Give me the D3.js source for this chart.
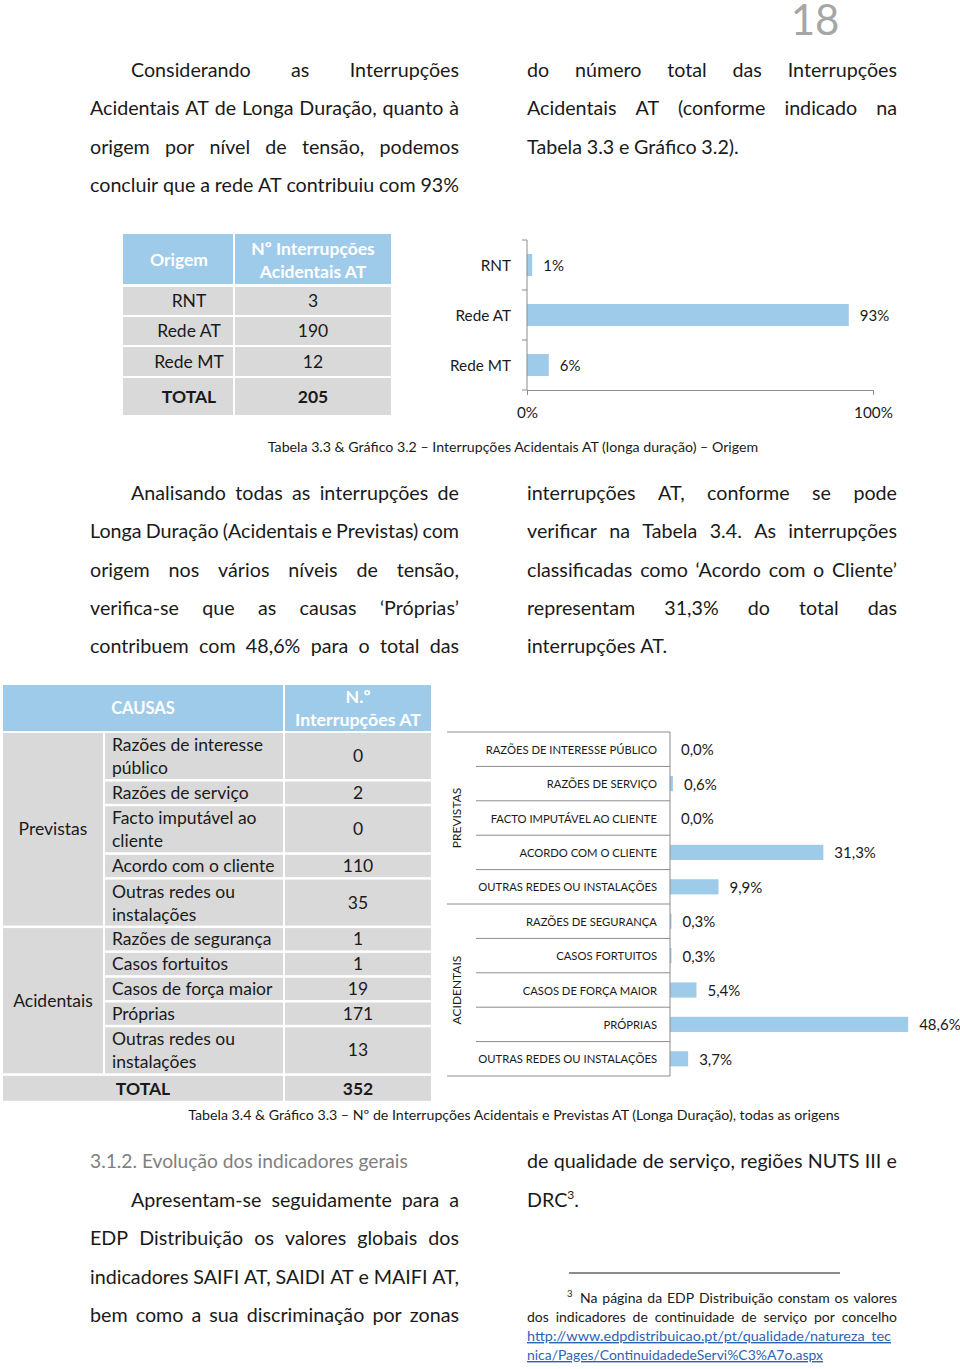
<!DOCTYPE html>
<html><head><meta charset="utf-8">
<script src="https://cdn.jsdelivr.net/npm/d3@7"></script>
<style>
html,body{margin:0;padding:0;background:#fff;}
svg{display:block;font-family:Lato,"Open Sans",sans-serif;}
</style></head><body>
<svg id="page" width="960" height="1369"></svg>
<script>
// ---------- DATA ----------
const origemCats = ["RNT", "Rede AT", "Rede MT"];
const origemCounts = [3, 190, 12];
const origemTotal = 205;
const origemShare = [0.015, 0.93, 0.063];
const origemLabels = ["1%", "93%", "6%"];
const origemTicks = [0, 1];
const origemTickLabels = ["0%", "100%"];

const causaGroups = ["Previstas", "Acidentais"];
const causaGroupOf = ["Previstas","Previstas","Previstas","Previstas","Previstas","Acidentais","Acidentais","Acidentais","Acidentais","Acidentais"];
const causaTableLabels = [["Razões de interesse","público"],["Razões de serviço"],["Facto imputável ao","cliente"],["Acordo com o cliente"],["Outras redes ou","instalações"],["Razões de segurança"],["Casos fortuitos"],["Casos de força maior"],["Próprias"],["Outras redes ou","instalações"]];
const causaCounts = [0, 2, 0, 110, 35, 1, 1, 19, 171, 13];
const causaTotal = 352;
const causaChartLabels = ["RAZÕES DE INTERESSE PÚBLICO","RAZÕES DE SERVIÇO","FACTO IMPUTÁVEL AO CLIENTE","ACORDO COM O CLIENTE","OUTRAS REDES OU INSTALAÇÕES","RAZÕES DE SEGURANÇA","CASOS FORTUITOS","CASOS DE FORÇA MAIOR","PRÓPRIAS","OUTRAS REDES OU INSTALAÇÕES"];
const causaPct = [0.0, 0.6, 0.0, 31.3, 9.9, 0.3, 0.3, 5.4, 48.6, 3.7];

const para1Left = ["Considerando as Interrupções","Acidentais AT de Longa Duração, quanto à","origem por nível de tensão, podemos","concluir que a rede AT contribuiu com 93%"];
const para1Right = ["do número total das Interrupções","Acidentais AT (conforme indicado na","Tabela 3.3 e Gráfico 3.2)."];
const para2Left = ["Analisando todas as interrupções de","Longa Duração (Acidentais e Previstas) com","origem nos vários níveis de tensão,","verifica-se que as causas ‘Próprias’","contribuem com 48,6% para o total das"];
const para2Right = ["interrupções AT, conforme se pode","verificar na Tabela 3.4. As interrupções","classificadas como ‘Acordo com o Cliente’","representam 31,3% do total das","interrupções AT."];
const para3Left = ["Apresentam-se seguidamente para a","EDP Distribuição os valores globais dos","indicadores SAIFI AT, SAIDI AT e MAIFI AT,","bem como a sua discriminação por zonas"];
const caption1 = "Tabela 3.3 & Gráfico 3.2 – Interrupções Acidentais AT (longa duração) – Origem";
const caption2 = "Tabela 3.4 & Gráfico 3.3 – Nº de Interrupções Acidentais e Previstas AT (Longa Duração), todas as origens";

// ---------- STYLE ----------
const BLUE_HEAD = "#9fcbea";
const BAR = "#9fcbea";
const GRAY = "#d9d9d9";
const INK = "#1a1a1a";
const AXIS = "#8c8c8c";
const BODY = 19.7;

const svg = d3.select("#page");

function justifyLine(g, text, x0, x1, y, o) {
  const size = o.size || BODY;
  const words = text.split(" ");
  const grp = g.append("g");
  const nodes = words.map(w => grp.append("text").attr("y", y).attr("font-size", size)
    .attr("fill", o.fill || INK).text(w));
  const widths = nodes.map(n => n.node().getComputedTextLength());
  const sum = d3.sum(widths);
  const avail = x1 - x0;
  if (!o.justify || words.length === 1) {
    const sp = size * 0.24;
    let x = x0;
    nodes.forEach((n, i) => { n.attr("x", x); x += widths[i] + sp; });
    return;
  }
  let gap = (avail - sum) / (words.length - 1);
  let scale = 1;
  const minGap = size * 0.16;
  if (gap < minGap) { gap = minGap; scale = (avail - gap * (words.length - 1)) / sum; }
  let x = x0;
  nodes.forEach((n, i) => {
    n.attr("x", x);
    if (scale < 1) n.attr("textLength", widths[i] * scale).attr("lengthAdjust", "spacingAndGlyphs");
    x += widths[i] * scale + gap;
  });
}

function paragraph(lines, x0, x1, y0, lh, indentFirst, lastJustify) {
  lines.forEach((t, i) => {
    const xs = (i === 0 && indentFirst) ? x0 + 41 : x0;
    const just = i < lines.length - 1 || lastJustify;
    justifyLine(svg, t, xs, x1, y0 + i * lh, {size: BODY, justify: just});
  });
}

// fit a text node to a given width ratio
function squeeze(sel, ratio) {
  sel.each(function() {
    const w = this.getComputedTextLength();
    d3.select(this).attr("textLength", w * ratio).attr("lengthAdjust", "spacingAndGlyphs");
  });
}

// page number
svg.append("text").attr("x", 815).attr("y", 35).attr("text-anchor", "middle")
  .attr("font-size", 42).attr("fill", "#a6a6a6").text("18");

// paragraph 1
paragraph(para1Left, 90, 459, 77, 38.3, true, true);
paragraph(para1Right, 527, 897, 77, 38.3, false, false);

// ---------- TABLE 1 ----------
const T1 = 17.5;
const t1 = svg.append("g");
const t1x = [123, 235, 391];
t1.append("rect").attr("x", t1x[0]).attr("y", 234).attr("width", t1x[1] - t1x[0] - 2).attr("height", 50).attr("fill", BLUE_HEAD);
t1.append("rect").attr("x", t1x[1]).attr("y", 234).attr("width", t1x[2] - t1x[1]).attr("height", 50).attr("fill", BLUE_HEAD);
t1.append("text").attr("x", 179).attr("y", 266).attr("text-anchor", "middle").attr("font-size", T1)
  .attr("font-weight", "bold").attr("fill", "#fff").text("Origem");
t1.append("text").attr("x", 313).attr("y", 255).attr("text-anchor", "middle").attr("font-size", T1)
  .attr("font-weight", "bold").attr("fill", "#fff").text("Nº Interrupções");
t1.append("text").attr("x", 313).attr("y", 278).attr("text-anchor", "middle").attr("font-size", T1)
  .attr("font-weight", "bold").attr("fill", "#fff").text("Acidentais AT");
const t1rows = origemCats.map((c, i) => ({c, v: origemCounts[i], bold: false}))
  .concat([{c: "TOTAL", v: origemTotal, bold: true}]);
const t1tops = [287, 317, 347, 378];
const t1h = [28, 28, 29, 37];
t1rows.forEach((r, i) => {
  t1.append("rect").attr("x", t1x[0]).attr("y", t1tops[i]).attr("width", t1x[1] - t1x[0] - 2).attr("height", t1h[i]).attr("fill", GRAY);
  t1.append("rect").attr("x", t1x[1]).attr("y", t1tops[i]).attr("width", t1x[2] - t1x[1]).attr("height", t1h[i]).attr("fill", GRAY);
  const cy = t1tops[i] + t1h[i] / 2 + 6;
  t1.append("text").attr("x", 189).attr("y", cy).attr("text-anchor", "middle").attr("font-size", T1)
    .attr("font-weight", r.bold ? "bold" : "normal").attr("fill", INK).text(r.c);
  t1.append("text").attr("x", 313).attr("y", cy).attr("text-anchor", "middle").attr("font-size", T1)
    .attr("font-weight", r.bold ? "bold" : "normal").attr("fill", INK).text(r.v);
});

// ---------- CHART 1 ----------
const c1 = svg.append("g");
const x1s = d3.scaleLinear().domain([0, 1]).range([527, 873]);
const y1s = d3.scaleBand().domain(origemCats).range([240, 390]).paddingInner(0.56).paddingOuter(0.28);
c1.selectAll("rect.bar").data(origemCats).join("rect").attr("class", "bar")
  .attr("x", x1s(0)).attr("y", d => y1s(d)).attr("height", y1s.bandwidth())
  .attr("width", (d, i) => x1s(origemShare[i]) - x1s(0)).attr("fill", BAR);
c1.selectAll("text.val").data(origemCats).join("text").attr("class", "val")
  .attr("x", (d, i) => x1s(origemShare[i]) + 11).attr("y", d => y1s(d) + y1s.bandwidth() / 2 + 5.5)
  .attr("font-size", 15).attr("fill", INK).text((d, i) => origemLabels[i]);
c1.selectAll("text.cat").data(origemCats).join("text").attr("class", "cat")
  .attr("x", 511).attr("text-anchor", "end").attr("y", d => y1s(d) + y1s.bandwidth() / 2 + 5.5)
  .attr("font-size", 15.3).attr("fill", INK).text(d => d);
c1.append("line").attr("x1", x1s(0)).attr("x2", x1s(0)).attr("y1", 240).attr("y2", 390).attr("stroke", AXIS);
d3.range(origemCats.length + 1).forEach(i => {
  const yy = y1s.range()[0] + i * y1s.step();
  c1.append("line").attr("x1", x1s(0) - 5).attr("x2", x1s(0)).attr("y1", yy).attr("y2", yy).attr("stroke", AXIS);
});
const ax1 = c1.append("g").attr("transform", "translate(0,390)")
  .call(d3.axisBottom(x1s).tickValues(origemTicks).tickFormat((d, i) => origemTickLabels[i]).tickSize(5).tickSizeOuter(0).tickPadding(12));
ax1.selectAll("path,line").attr("stroke", AXIS);
ax1.selectAll("text").attr("font-size", 15.3).attr("fill", INK).attr("font-family", "Lato");

svg.append("text").attr("x", 513).attr("y", 452).attr("text-anchor", "middle").attr("font-size", 14.2)
  .attr("fill", INK).text(caption1);

// paragraph 2
paragraph(para2Left, 90, 459, 500, 38.3, true, true);
paragraph(para2Right, 527, 897, 500, 38.3, false, false);

// ---------- TABLE 2 ----------
const T2 = 17.5;
const t2 = svg.append("g");
const cx = [3, 105, 285, 431];
t2.append("rect").attr("x", cx[0]).attr("y", 685).attr("width", cx[2] - cx[0] - 2).attr("height", 46).attr("fill", BLUE_HEAD);
t2.append("rect").attr("x", cx[2]).attr("y", 685).attr("width", cx[3] - cx[2]).attr("height", 46).attr("fill", BLUE_HEAD);
t2.append("text").attr("x", 143).attr("y", 714).attr("text-anchor", "middle").attr("font-size", 16.5)
  .attr("font-weight", "bold").attr("fill", "#fff").text("CAUSAS");
t2.append("text").attr("x", 358).attr("y", 703).attr("text-anchor", "middle").attr("font-size", 17.8)
  .attr("font-weight", "bold").attr("fill", "#fff").text("N.º");
t2.append("text").attr("x", 358).attr("y", 726).attr("text-anchor", "middle").attr("font-size", 17.8)
  .attr("font-weight", "bold").attr("fill", "#fff").text("Interrupções AT");
let yy = 733;
const rowPos = [];
causaTableLabels.forEach((lab, i) => {
  const h = lab.length === 2 ? 46 : 22.3;
  rowPos.push({top: yy, h});
  yy += h + 2.5;
});
const totalTop = yy;
causaTableLabels.forEach((lab, i) => {
  const r = rowPos[i];
  t2.append("rect").attr("x", cx[1]).attr("y", r.top).attr("width", cx[2] - cx[1] - 2).attr("height", r.h).attr("fill", GRAY);
  t2.append("rect").attr("x", cx[2]).attr("y", r.top).attr("width", cx[3] - cx[2]).attr("height", r.h).attr("fill", GRAY);
  if (lab.length === 2) {
    lab.forEach((l, k) => t2.append("text").attr("x", 112).attr("y", r.top + 18 + k * 23).attr("font-size", T2).attr("fill", INK).text(l));
  } else {
    t2.append("text").attr("x", 112).attr("y", r.top + r.h / 2 + 6).attr("font-size", T2).attr("fill", INK).text(lab[0]);
  }
  t2.append("text").attr("x", 358).attr("y", r.top + r.h / 2 + 6).attr("text-anchor", "middle").attr("font-size", T2).attr("fill", INK).text(causaCounts[i]);
});
causaGroups.forEach(g => {
  const idx = d3.range(causaGroupOf.length).filter(i => causaGroupOf[i] === g);
  const top = rowPos[idx[0]].top;
  const last = rowPos[idx[idx.length - 1]];
  const bottom = last.top + last.h;
  t2.append("rect").attr("x", cx[0]).attr("y", top).attr("width", cx[1] - cx[0] - 2).attr("height", bottom - top).attr("fill", GRAY);
  t2.append("text").attr("x", 53).attr("y", (top + bottom) / 2 + 6).attr("text-anchor", "middle").attr("font-size", T2).attr("fill", INK).text(g);
});
t2.append("rect").attr("x", cx[0]).attr("y", totalTop).attr("width", cx[2] - cx[0] - 2).attr("height", 25).attr("fill", GRAY);
t2.append("rect").attr("x", cx[2]).attr("y", totalTop).attr("width", cx[3] - cx[2]).attr("height", 25).attr("fill", GRAY);
t2.append("text").attr("x", 143).attr("y", totalTop + 19).attr("text-anchor", "middle").attr("font-size", T2).attr("font-weight", "bold").attr("fill", INK).text("TOTAL");
t2.append("text").attr("x", 358).attr("y", totalTop + 19).attr("text-anchor", "middle").attr("font-size", T2).attr("font-weight", "bold").attr("fill", INK).text(causaTotal);

// ---------- CHART 2 ----------
const c2 = svg.append("g");
const idx2 = d3.range(causaChartLabels.length);
const x2s = d3.scaleLinear().domain([0, 50]).range([670, 915]);
const y2s = d3.scaleBand().domain(idx2).range([732, 1076]).paddingInner(0.56).paddingOuter(0.28);
const fmt = v => v.toFixed(1).replace(".", ",") + "%";
c2.selectAll("rect.bar").data(idx2).join("rect").attr("class", "bar")
  .attr("x", x2s(0)).attr("y", i => y2s(i)).attr("height", y2s.bandwidth())
  .attr("width", i => x2s(causaPct[i]) - x2s(0)).attr("fill", BAR);
c2.selectAll("text.val").data(idx2).join("text").attr("class", "val")
  .attr("x", i => x2s(causaPct[i]) + 11).attr("y", i => y2s(i) + y2s.bandwidth() / 2 + 6)
  .attr("font-size", 15).attr("fill", INK).text(i => fmt(causaPct[i]));
c2.selectAll("text.cat").data(idx2).join("text").attr("class", "cat")
  .attr("x", 657).attr("text-anchor", "end").attr("y", i => y2s(i) + y2s.bandwidth() / 2 + 4.5)
  .attr("font-size", 12.3).attr("fill", INK).text(i => causaChartLabels[i])
  .call(squeeze, 0.915);
const step2 = y2s.step();
const y2top = y2s.range()[0];
d3.range(idx2.length + 1).forEach(i => {
  const y = y2top + i * step2;
  const full = i === 0 || i === idx2.length || causaGroupOf[i] !== causaGroupOf[i - 1];
  c2.append("line").attr("x1", full ? 447 : 476).attr("x2", x2s(0)).attr("y1", y).attr("y2", y).attr("stroke", AXIS);
});
c2.append("line").attr("x1", x2s(0)).attr("x2", x2s(0)).attr("y1", y2top).attr("y2", y2top + idx2.length * step2).attr("stroke", AXIS);
causaGroups.forEach(g => {
  const idx = idx2.filter(i => causaGroupOf[i] === g);
  const a = y2top + idx[0] * step2, b = y2top + (idx[idx.length - 1] + 1) * step2;
  c2.append("text").attr("transform", `translate(461,${(a + b) / 2}) rotate(-90)`)
    .attr("text-anchor", "middle").attr("font-size", 12).attr("fill", INK).text(g.toUpperCase());
});

svg.append("text").attr("x", 514).attr("y", 1120).attr("text-anchor", "middle").attr("font-size", 14.2)
  .attr("fill", INK).text(caption2);

// ---------- SECTION 3 ----------
svg.append("text").attr("x", 90).attr("y", 1168).attr("font-size", 19.2).attr("fill", "#7f7f7f")
  .text("3.1.2. Evolução dos indicadores gerais");
paragraph(para3Left, 90, 459, 1207, 38.3, true, true);
justifyLine(svg, "de qualidade de serviço, regiões NUTS III e", 527, 897, 1168, {size: BODY, justify: true});
const drc = svg.append("text").attr("x", 527).attr("y", 1207).attr("font-size", BODY).attr("fill", INK);
drc.append("tspan").text("DRC");
drc.append("tspan").attr("font-size", 12).attr("dy", -8).text("3");
drc.append("tspan").attr("dy", 8).text(".");

svg.append("line").attr("x1", 569).attr("x2", 840).attr("y1", 1273).attr("y2", 1273).attr("stroke", INK).attr("stroke-width", 1.2);
svg.append("text").attr("x", 567).attr("y", 1297).attr("font-size", 9.5).attr("fill", INK).text("3");
justifyLine(svg, "Na página da EDP Distribuição constam os valores", 580, 897, 1303, {size: 14, justify: true});
justifyLine(svg, "dos indicadores de continuidade de serviço por concelho", 527, 897, 1322, {size: 14, justify: true});
svg.append("text").attr("x", 527).attr("y", 1341).attr("font-size", 14).attr("fill", "#2f63b2")
  .attr("text-decoration", "underline").attr("textLength", 364).attr("lengthAdjust", "spacingAndGlyphs")
  .text("http://www.edpdistribuicao.pt/pt/qualidade/natureza_tec");
svg.append("text").attr("x", 527).attr("y", 1360).attr("font-size", 14).attr("fill", "#2f63b2")
  .attr("text-decoration", "underline").attr("textLength", 296).attr("lengthAdjust", "spacingAndGlyphs")
  .text("nica/Pages/ContinuidadedeServi%C3%A7o.aspx");
</script>
</body></html>
